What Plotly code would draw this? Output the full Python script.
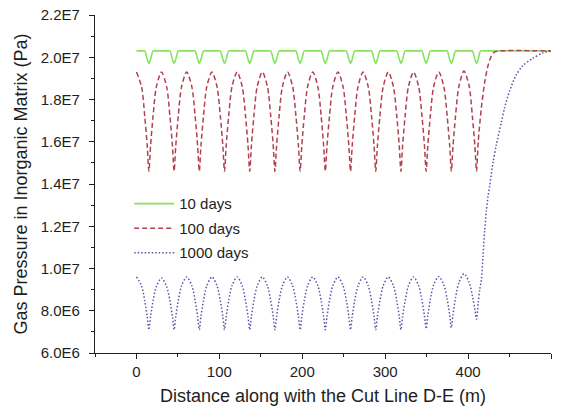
import plotly.graph_objects as go

# Positions along cut line D-E (m): crests, flanks and well troughs
x_periodic = [0, 6.2, 10.0, 13.0, 15.0, 17.0, 20.0, 24.0, 30.2,
              36.4, 40.4, 43.4, 45.4, 47.4, 50.4, 54.4, 60.6,
              66.8, 70.8, 73.8, 75.8, 77.8, 80.8, 84.8, 91.0,
              97.2, 101.2, 104.2, 106.2, 108.2, 111.2, 115.2, 121.4,
              127.6, 131.6, 134.6, 136.6, 138.6, 141.6, 145.6, 151.8,
              158.0, 162.0, 165.0, 167.0, 169.0, 172.0, 176.0, 182.2,
              188.4, 192.4, 195.4, 197.4, 199.4, 202.4, 206.4, 212.6,
              218.8, 222.8, 225.8, 227.8, 229.8, 232.8, 236.8, 243.0,
              249.2, 253.2, 256.2, 258.2, 260.2, 263.2, 267.2, 273.4,
              279.6, 283.6, 286.6, 288.6, 290.6, 293.6, 297.6, 303.8,
              310.0, 314.0, 317.0, 319.0, 321.0, 324.0, 328.0, 334.2,
              340.4, 344.4, 347.4, 349.4, 351.4, 354.4, 358.4, 364.6,
              370.8, 374.8, 377.8, 379.8, 381.8, 384.8, 388.8, 395.0,
              401.2, 405.2, 408.2, 410.2]

# 10 days (Pa, x1e7)
x_10d_tail = [412.2, 415.0, 420.0, 500]
p_10d = [2.03, 2.03, 2.03, 1.99, 1.97, 1.99, 2.03, 2.03, 2.03,
         2.03, 2.03, 1.99, 1.97, 1.99, 2.03, 2.03, 2.03,
         2.03, 2.03, 1.99, 1.97, 1.99, 2.03, 2.03, 2.03,
         2.03, 2.03, 1.99, 1.97, 1.99, 2.03, 2.03, 2.03,
         2.03, 2.03, 1.99, 1.97, 1.99, 2.03, 2.03, 2.03,
         2.03, 2.03, 1.99, 1.97, 1.99, 2.03, 2.03, 2.03,
         2.03, 2.03, 1.99, 1.97, 1.99, 2.03, 2.03, 2.03,
         2.03, 2.03, 1.99, 1.97, 1.99, 2.03, 2.03, 2.03,
         2.03, 2.03, 1.99, 1.97, 1.99, 2.03, 2.03, 2.03,
         2.03, 2.03, 1.99, 1.97, 1.99, 2.03, 2.03, 2.03,
         2.03, 2.03, 1.99, 1.97, 1.99, 2.03, 2.03, 2.03,
         2.03, 2.03, 1.99, 1.97, 1.99, 2.03, 2.03, 2.03,
         2.03, 2.03, 1.99, 1.97, 1.99, 2.03, 2.03, 2.03,
         2.03, 2.03, 1.99, 1.97,
         1.99, 2.03, 2.03, 2.03]

# 100 days (Pa, x1e7)
x_100d_tail = [412.2, 416.0, 420.0, 424.0, 428.0, 432.0, 438.0, 500]
p_100d = [1.93, 1.86, 1.72, 1.58, 1.46, 1.58, 1.72, 1.86, 1.93,
          1.86, 1.72, 1.58, 1.46, 1.58, 1.72, 1.86, 1.93,
          1.86, 1.72, 1.58, 1.46, 1.58, 1.72, 1.86, 1.93,
          1.86, 1.72, 1.58, 1.46, 1.58, 1.72, 1.86, 1.93,
          1.86, 1.72, 1.58, 1.46, 1.58, 1.72, 1.86, 1.93,
          1.86, 1.72, 1.58, 1.46, 1.58, 1.72, 1.86, 1.93,
          1.86, 1.72, 1.58, 1.46, 1.58, 1.72, 1.86, 1.93,
          1.86, 1.72, 1.58, 1.46, 1.58, 1.72, 1.86, 1.93,
          1.86, 1.72, 1.58, 1.46, 1.58, 1.72, 1.86, 1.93,
          1.86, 1.72, 1.58, 1.46, 1.58, 1.72, 1.86, 1.93,
          1.86, 1.72, 1.58, 1.46, 1.58, 1.72, 1.86, 1.93,
          1.86, 1.72, 1.58, 1.46, 1.58, 1.72, 1.86, 1.93,
          1.86, 1.72, 1.58, 1.46, 1.58, 1.72, 1.86, 1.935,
          1.865, 1.72, 1.58, 1.46,
          1.60, 1.76, 1.88, 1.96, 2.005, 2.025, 2.03, 2.03]

# 1000 days (Pa, x1e6)
x_1000d_tail = [412.2, 414.0, 416.0, 418.0, 420.0, 422.0, 424.0, 426.0,
                430.0, 434.0, 440.0, 444.0, 450.0, 458.0, 466.0, 478.0,
                490.0, 500]
p_1000d = [9.6, 9.18, 8.47, 7.72, 7.1, 7.72, 8.47, 9.15, 9.55,
           9.15, 8.47, 7.72, 7.1, 7.72, 8.47, 9.18, 9.6,
           9.18, 8.47, 7.72, 7.1, 7.72, 8.47, 9.18, 9.6,
           9.18, 8.47, 7.72, 7.1, 7.72, 8.47, 9.18, 9.6,
           9.18, 8.47, 7.72, 7.1, 7.72, 8.47, 9.18, 9.6,
           9.18, 8.47, 7.72, 7.1, 7.72, 8.47, 9.18, 9.6,
           9.18, 8.47, 7.72, 7.1, 7.72, 8.47, 9.18, 9.6,
           9.18, 8.47, 7.72, 7.1, 7.72, 8.47, 9.18, 9.6,
           9.18, 8.47, 7.72, 7.1, 7.72, 8.47, 9.18, 9.6,
           9.18, 8.47, 7.72, 7.1, 7.72, 8.47, 9.18, 9.6,
           9.18, 8.47, 7.72, 7.1, 7.72, 8.47, 9.18, 9.6,
           9.18, 8.5, 7.75, 7.15, 7.77, 8.52, 9.22, 9.62,
           9.22, 8.55, 7.8, 7.2, 7.84, 8.6, 9.32, 9.75,
           9.35, 8.7, 8.05, 7.6,
           8.4, 9.0, 9.44, 10.6, 11.8, 12.7, 13.4, 13.9,
           15.0, 15.84, 16.9, 17.6, 18.4, 19.16, 19.6, 19.95,
           20.2, 20.3]

series_names = ["10 days", "100 days", "1000 days"]
series_colors = ["#86E35E", "#B2404F", "#5656A8"]

y_tick_vals = [6.0e6, 8.0e6, 1.0e7, 1.2e7, 1.4e7, 1.6e7, 1.8e7, 2.0e7, 2.2e7]
y_tick_text = ["6.0E6", "8.0E6", "1.0E7", "1.2E7", "1.4E7", "1.6E7", "1.8E7", "2.0E7", "2.2E7"]
x_tick_vals = [0, 100, 200, 300, 400, 500]

FONT = "Liberation Sans, Arial, sans-serif"
INK = "#1e1e1e"

fig = go.Figure()
fig.add_trace(go.Scatter(
    x=x_periodic + x_10d_tail, y=[v * 1e7 for v in p_10d],
    mode="lines", name=series_names[0], legendgroup="g10",
    line=dict(color=series_colors[0], width=1.6, shape="spline", smoothing=0.6)))
fig.add_trace(go.Scatter(
    x=x_periodic + x_100d_tail, y=[v * 1e7 for v in p_100d],
    mode="lines", name=series_names[1], legendgroup="g100",
    line=dict(color=series_colors[1], width=1.5, dash="5px,3px", shape="spline", smoothing=0.8)))
fig.add_trace(go.Scatter(
    x=x_periodic + x_1000d_tail, y=[v * 1e6 for v in p_1000d],
    mode="lines", name=series_names[2], legendgroup="g1000",
    line=dict(color=series_colors[2], width=1.5, dash="1.5px,2px", shape="spline", smoothing=0.8)))

axis_common = dict(
    showgrid=False, zeroline=False, showline=True, linecolor=INK, linewidth=1.3,
    ticks="outside", ticklen=5, tickwidth=1.2, tickcolor=INK,
    tickfont=dict(family=FONT, size=15, color=INK), mirror=False,
)

fig.update_xaxes(
    **axis_common, range=[-50, 500], tickvals=x_tick_vals,
    minor=dict(ticks="outside", dtick=50, tick0=0, ticklen=3, tickwidth=1.2, tickcolor=INK),
    title=dict(text="Distance along with the Cut Line D-E (m)",
               font=dict(family=FONT, size=18, color=INK), standoff=10),
)
fig.update_yaxes(
    **axis_common, range=[6.0e6, 2.2e7], tickvals=y_tick_vals, ticktext=y_tick_text,
    ticklabelstandoff=6,
    minor=dict(ticks="outside", dtick=1e6, tick0=0, ticklen=3, tickwidth=1.2, tickcolor=INK),
    title=dict(text="Gas Pressure in Inorganic Matrix (Pa)",
               font=dict(family=FONT, size=18, color=INK), standoff=8),
)

fig.update_layout(
    width=561, height=407,
    margin=dict(l=95, r=10, t=15, b=54, autoexpand=False),
    paper_bgcolor="white", plot_bgcolor="white",
    showlegend=True,
    legend=dict(x=0.075, y=0.49, xanchor="left", yanchor="top",
                bgcolor="rgba(0,0,0,0)", borderwidth=0, itemwidth=40,
                font=dict(family=FONT, size=15, color=INK),
                tracegroupgap=2),
)

fig.write_html("out.html")
